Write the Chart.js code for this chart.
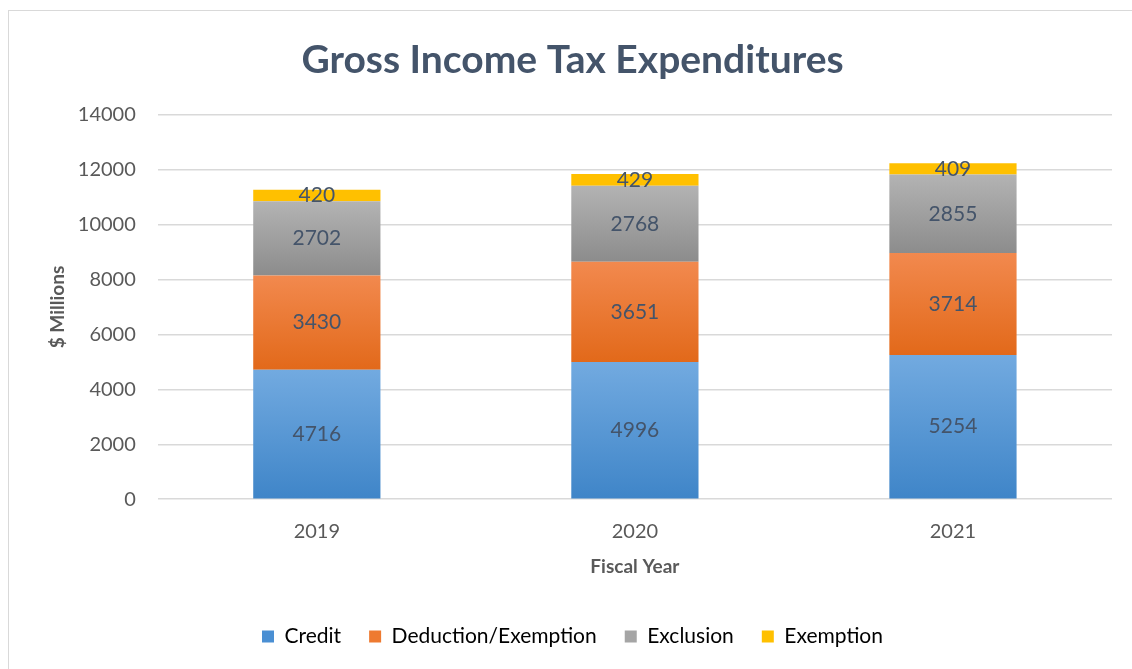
<!DOCTYPE html>
<html><head><meta charset="utf-8">
<script src="https://cdn.jsdelivr.net/npm/chart.js@4"></script>
<style>
html,body{margin:0;padding:0;background:#fff;overflow:hidden;width:1132px;height:669px;}
#frame{position:absolute;left:8px;top:10px;width:1140px;height:680px;border:1px solid #d9d9d9;box-sizing:border-box;}
#wrap{position:absolute;left:0;top:0;width:1132px;height:669px;}
</style></head>
<body>
<div id="frame"></div>
<div id="wrap"><canvas id="c"></canvas></div>
<script>
const categories = ["2019", "2020", "2021"];
const seriesNames = ["Credit", "Deduction/Exemption", "Exclusion", "Exemption"];
const credit = [4716, 4996, 5254];
const deductionExemption = [3430, 3651, 3714];
const exclusion = [2702, 2768, 2855];
const exemption = [420, 429, 409];
const yTicks = [0, 2000, 4000, 6000, 8000, 10000, 12000, 14000];

const gradStops = [
  ["#72aae0", "#3f85c8"],
  ["#f2894e", "#e2691a"],
  ["#b3b3b3", "#8c8c8c"],
  ["#ffc000", "#ffc000"]
];
const legendColors = ["#4a8fd3", "#ee7a30", "#a5a5a5", "#ffc000"];
const seriesData = [credit, deductionExemption, exclusion, exemption];

function gradFor(idx) {
  return function(context) {
    const chart = context.chart;
    const {ctx, chartArea} = chart;
    const yScale = chart.scales && chart.scales.y;
    if (!chartArea || !yScale || context.type !== 'data') return legendColors[idx];
    const di = context.dataIndex;
    let base = 0;
    for (let k = 0; k < idx; k++) base += seriesData[k][di];
    const topV = base + seriesData[idx][di];
    const top = yScale.getPixelForValue(topV), bot = yScale.getPixelForValue(base);
    if (!isFinite(top) || !isFinite(bot) || !(bot > top)) return legendColors[idx];
    const g = ctx.createLinearGradient(0, top, 0, bot);
    g.addColorStop(0, gradStops[idx][0]);
    g.addColorStop(1, gradStops[idx][1]);
    return g;
  };
}

const datasets = seriesData.map((d, i) => ({
  label: seriesNames[i],
  data: d,
  backgroundColor: gradFor(i),
  borderWidth: 0,
  barPercentage: 0.8,
  categoryPercentage: 0.5
}));

const FONT = 'Lato, "Open Sans", sans-serif';

const labelPlugin = {
  id: 'segLabels',
  afterDatasetsDraw(chart) {
    const ctx = chart.ctx;
    ctx.save();
    ctx.font = '21px ' + FONT;
    ctx.fillStyle = '#44546a';
    ctx.textAlign = 'center';
    ctx.textBaseline = 'middle';
    chart.data.datasets.forEach((ds, di) => {
      const meta = chart.getDatasetMeta(di);
      meta.data.forEach((el, i) => {
        const p = el.getCenterPoint();
        ctx.fillText(String(ds.data[i]), p.x, p.y);
      });
    });
    ctx.restore();
  }
};

new Chart(document.getElementById('c'), {
  type: 'bar',
  data: { labels: categories, datasets },
  options: {
    responsive: true,
    maintainAspectRatio: false,
    animation: false,
    layout: { padding: { left: 33, right: 20, top: 20, bottom: 12 } },
    plugins: {
      title: {
        display: true,
        text: 'Gross Income Tax Expenditures',
        color: '#44546a',
        font: { family: FONT, size: 39, weight: 'bold' },
        padding: { top: 17, bottom: 31 }
      },
      legend: {
        position: 'bottom',
        labels: {
          boxWidth: 12, boxHeight: 12, padding: 28,
          color: '#595959',
          font: { family: FONT, size: 21 },
          generateLabels(chart) {
            return seriesNames.map((n, i) => ({
              text: n, fillStyle: legendColors[i], strokeStyle: legendColors[i],
              lineWidth: 0, datasetIndex: i, hidden: false
            }));
          }
        }
      },
      tooltip: { enabled: false }
    },
    scales: {
      x: {
        stacked: true,
        grid: { display: false, drawTicks: false },
        border: { display: false },
        ticks: { color: '#595959', font: { family: FONT, size: 20 }, padding: 20 },
        title: { display: true, text: 'Fiscal Year', color: '#595959',
          font: { family: FONT, size: 19, weight: 'bold' }, padding: { top: -8, bottom: 20 } }
      },
      y: {
        stacked: true,
        min: 0, max: 14000,
        afterBuildTicks(axis) { axis.ticks = yTicks.map(v => ({ value: v })); },
        grid: { color: '#d9d9d9', lineWidth: 1.5, drawTicks: false },
        border: { display: false },
        ticks: { color: '#595959', font: { family: FONT, size: 20 }, padding: 22,
          callback: (v) => String(v) },
        title: { display: true, text: '$ Millions', color: '#595959',
          font: { family: FONT, size: 19, weight: 'bold' }, padding: { top: 13, bottom: -13 } }
      }
    }
  },
  plugins: [labelPlugin]
});
</script>
</body></html>
